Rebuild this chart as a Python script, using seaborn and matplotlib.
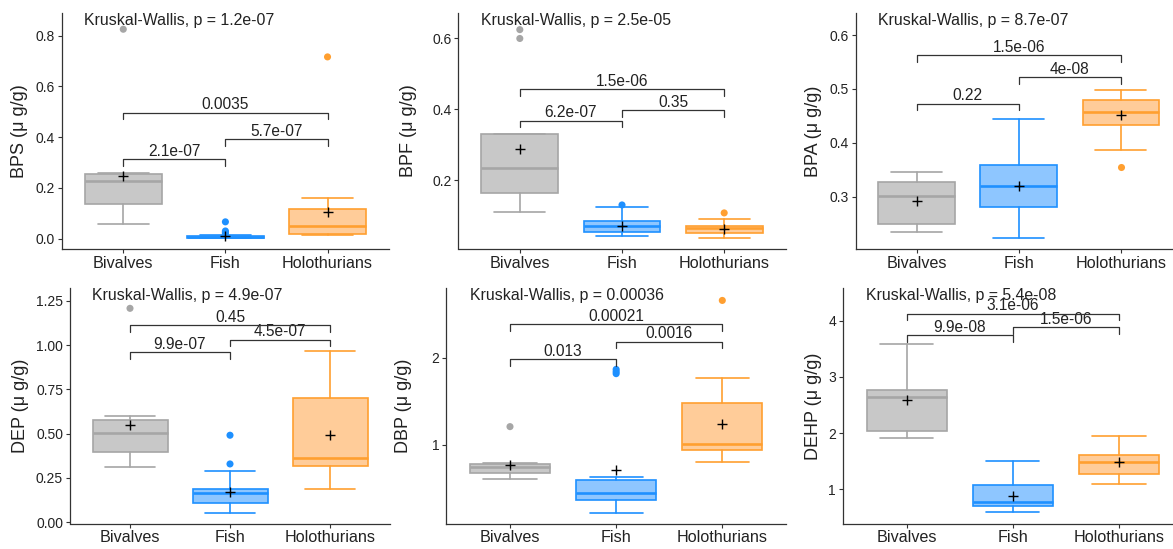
import numpy as np
import pandas as pd
import seaborn as sns
import matplotlib.pyplot as plt
from matplotlib.transforms import blended_transform_factory

# data #

groups = ["Bivalves", "Fish", "Holothurians"]
compounds = ["BPS", "BPF", "BPA", "DEP", "DBP", "DEHP"]
kw_p = ["1.2e-07", "2.5e-05", "8.7e-07", "4.9e-07", "0.00036", "5.4e-08"]

# box stats per compound, one value per group (Bivalves, Fish, Holothurians)
whislo = {"BPS": [0.056, 0.001, 0.013], "BPF": [0.110, 0.041, 0.035], "BPA": [0.234, 0.223, 0.386],
          "DEP": [0.311, 0.051, 0.186], "DBP": [0.607, 0.218, 0.805], "DEHP": [1.915, 0.593, 1.095]}
q1 = {"BPS": [0.135, 0.003, 0.017], "BPF": [0.162, 0.052, 0.050], "BPA": [0.249, 0.281, 0.434],
      "DEP": [0.397, 0.111, 0.316], "DBP": [0.679, 0.366, 0.947], "DEHP": [2.033, 0.699, 1.266]}
med = {"BPS": [0.225, 0.007, 0.051], "BPF": [0.233, 0.071, 0.0635], "BPA": [0.301, 0.320, 0.458],
       "DEP": [0.501, 0.165, 0.360], "DBP": [0.752, 0.447, 1.011], "DEHP": [2.648, 0.776, 1.478]}
q3 = {"BPS": [0.254, 0.010, 0.117], "BPF": [0.330, 0.085, 0.069], "BPA": [0.327, 0.359, 0.479],
      "DEP": [0.578, 0.186, 0.700], "DBP": [0.782, 0.603, 1.477], "DEHP": [2.772, 1.071, 1.614]}
whishi = {"BPS": [0.257, 0.013, 0.160], "BPF": [0.330, 0.125, 0.091], "BPA": [0.346, 0.445, 0.498],
          "DEP": [0.602, 0.292, 0.968], "DBP": [0.790, 0.630, 1.763], "DEHP": [3.593, 1.502, 1.951]}
means = {"BPS": [0.248, 0.012, 0.105], "BPF": [0.2875, 0.071, 0.0626], "BPA": [0.292, 0.320, 0.4515],
         "DEP": [0.546, 0.168, 0.495], "DBP": [0.771, 0.710, 1.237], "DEHP": [2.583, 0.888, 1.478]}
outliers = {"BPS": [[0.825], [0.066, 0.030, 0.025, 0.021], [0.716]],
            "BPF": [[0.625, 0.600], [0.1295], [0.107]],
            "BPA": [[], [], [0.356]],
            "DEP": [[1.207], [0.329, 0.491], []],
            "DBP": [[1.21], [1.866, 1.84, 1.817], [2.656]],
            "DEHP": [[], [], []]}

# pairwise brackets: Bivalves-Fish, Fish-Holothurians, Bivalves-Holothurians
pairs = [(0, 1), (1, 2), (0, 2)]
bracket_y = {"BPS": [0.3126, 0.391, 0.4966], "BPF": [0.3676, 0.3976, 0.457], "BPA": [0.4726, 0.522, 0.5629],
             "DEP": [0.960, 1.0297, 1.1126], "DBP": [1.981, 2.183, 2.382], "DEHP": [3.746, 3.888, 4.13]}
bracket_p = {"BPS": ["2.1e-07", "5.7e-07", "0.0035"], "BPF": ["6.2e-07", "0.35", "1.5e-06"],
             "BPA": ["0.22", "4e-08", "1.5e-06"], "DEP": ["9.9e-07", "4.5e-07", "0.45"],
             "DBP": ["0.013", "0.0016", "0.00021"], "DEHP": ["9.9e-08", "1.5e-06", "3.1e-06"]}

# styling #

edge_cols = ["#A6A6A6", "#1E90FF", "#FF9F30"]
fill_cols = ["#C8C8C8", "#8EC6FF", "#FFCC99"]
dark = "#333333"

sns.set_theme(style="ticks")
plt.rcParams['font.family'] = ['Liberation Sans', 'DejaVu Sans']

W, H = 1173, 549
# left, right, top, bottom in pixels
panels = [(62, 388.8, 13, 249), (458.5, 785.5, 13, 249), (855.5, 1182, 13, 249),
          (70, 390, 288.3, 523.5), (446.3, 786, 288.3, 523.5), (843, 1182.7, 288.3, 523.5)]
ylims = [(-0.041, 0.889), (0.005, 0.672), (0.203, 0.641),
         (-0.007, 1.32), (0.10, 2.795), (0.39, 4.58)]
yticks = [[0, 0.2, 0.4, 0.6, 0.8], [0.2, 0.4, 0.6], [0.3, 0.4, 0.5, 0.6],
          [0, 0.25, 0.5, 0.75, 1.0, 1.25], [1, 2], [1, 2, 3, 4]]
yfmt = ["{:.1f}", "{:.1f}", "{:.1f}", "{:.2f}", "{:.0f}", "{:.0f}"]
label_dx = [44, 51, 44, 51, 44, 31]

fig = plt.figure(figsize=(W / 100, H / 100), dpi=100)

for k, comp in enumerate(compounds):
    l, r, t, b = panels[k]
    ax = fig.add_axes([l / W, 1 - b / H, (r - l) / W, (b - t) / H])

    # boxes
    for i in range(3):
        st = dict(whislo=whislo[comp][i], q1=q1[comp][i], med=med[comp][i],
                  q3=q3[comp][i], whishi=whishi[comp][i], fliers=[])
        ax.bxp([st], positions=[i], widths=0.75, capwidths=[0.5], patch_artist=True,
               showfliers=False, manage_ticks=False,
               boxprops=dict(facecolor=fill_cols[i], edgecolor=edge_cols[i], linewidth=1.2),
               whiskerprops=dict(color=edge_cols[i], linewidth=1.2),
               capprops=dict(color=edge_cols[i], linewidth=1.2),
               medianprops=dict(color=edge_cols[i], linewidth=1.9))

    # outliers
    out = pd.DataFrame([(groups[i], i, v) for i in range(3) for v in outliers[comp][i]],
                       columns=["group", "x", "value"])
    if len(out):
        sns.scatterplot(data=out, x="x", y="value", hue="group", hue_order=groups,
                        palette=edge_cols, s=26, linewidth=0, legend=False, ax=ax, zorder=4)

    # means
    sns.scatterplot(x=[0, 1, 2], y=means[comp], marker="+", color="black", s=55,
                    linewidth=1.0, legend=False, ax=ax, zorder=5)

    y0, y1 = ylims[k]
    tip = 0.028 * (y1 - y0)
    for (a, c), yb, lab in zip(pairs, bracket_y[comp], bracket_p[comp]):
        ax.plot([a, a, c, c], [yb - tip, yb, yb, yb - tip], color=dark, lw=0.9, zorder=6)
        ax.annotate(lab, xy=((a + c) / 2, yb), xytext=(0, 0.3), textcoords="offset points",
                    ha="center", va="bottom", fontsize=11.2, color="#222222")

    trans = blended_transform_factory(ax.transData, ax.transAxes)
    ax.text(-0.38, 1 - 7.5 / (b - t), f"Kruskal-Wallis, p = {kw_p[k]}", transform=trans,
            ha="left", va="center", fontsize=11.4, color="#222222")

    ax.set_xlim(-0.6, 2.6)
    ax.set_ylim(y0, y1)
    ax.set_xticks([0, 1, 2])
    ax.set_xticklabels(groups, fontsize=11.6, color="#222222")
    ax.set_yticks(yticks[k])
    ax.set_yticklabels([yfmt[k].format(v) for v in yticks[k]], fontsize=10, color="#222222")
    ax.set_xlabel("")
    ax.set_ylabel(f"{comp} (μ g/g)", fontsize=13, color="#222222")
    ax.yaxis.set_label_coords(-(label_dx[k] - 10) / (r - l), 0.5)
    ax.tick_params(length=3, width=0.8, color=dark, pad=2)
    sns.despine(ax=ax)
    for s in ["left", "bottom"]:
        ax.spines[s].set_color(dark)
        ax.spines[s].set_linewidth(0.9)

fig.savefig("out.png", dpi=100)
